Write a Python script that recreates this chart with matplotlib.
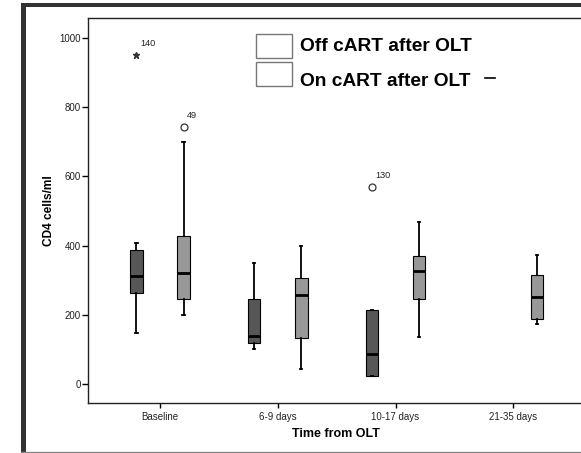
import matplotlib
matplotlib.use("Agg")
import matplotlib.pyplot as plt
from matplotlib.patches import Rectangle
from matplotlib.lines import Line2D

plt.rcParams['font.family'] = ['Liberation Sans', 'DejaVu Sans']

categories = ["Baseline", "6-9 days", "10-17 days", "21-35 days"]
series_names = ["Off cART after OLT", "On cART after OLT"]

# Off cART after OLT (no data for 21-35 days)
off_whislo = [149, 103, 23, None]
off_q1     = [262, 120, 23, None]
off_med    = [312, 138, 88, None]
off_q3     = [386, 245, 213, None]
off_whishi = [408, 351, 213, None]

# On cART after OLT
on_whislo = [199, 44, 136, 175]
on_q1     = [245, 133, 245, 187]
on_med    = [321, 258, 326, 253]
on_q3     = [428, 308, 369, 316]
on_whishi = [698, 400, 468, 372]

# outliers: category index, series (0=off, 1=on), value, case id, marker
out_cat    = [0, 0, 2]
out_series = [0, 1, 0]
out_value  = [951, 743, 569]
out_id     = ["140", "49", "130"]
out_marker = ["*", "o", "o"]

yticks = [0, 200, 400, 600, 800, 1000]

W, H = 581, 453
fig = plt.figure(figsize=(W / 100, H / 100), dpi=100)
fig.patch.set_facecolor("white")

# axes placement (extends slightly past right edge like the reference)
ax_left, ax_right = 87.7, 585.6
ax_top, ax_bot = 18.3, 403.3
ax = fig.add_axes([ax_left / W, 1 - ax_bot / H, (ax_right - ax_left) / W, (ax_bot - ax_top) / H])

colors = ["#575757", "#989898"]
offsets = [-0.2, 0.2]
width = 0.106

series_stats = [
    (off_whislo, off_q1, off_med, off_q3, off_whishi),
    (on_whislo, on_q1, on_med, on_q3, on_whishi),
]

for s, (wl, q1, md, q3, wh) in enumerate(series_stats):
    stats, pos = [], []
    for i in range(len(categories)):
        if md[i] is None:
            continue
        stats.append(dict(whislo=wl[i], q1=q1[i], med=md[i], q3=q3[i], whishi=wh[i], fliers=[]))
        pos.append(i + offsets[s])
    ax.bxp(stats, positions=pos, widths=width, patch_artist=True, showfliers=False,
           capwidths=0.02,
           boxprops=dict(facecolor=colors[s], edgecolor="black", linewidth=0.8),
           medianprops=dict(color="black", linewidth=2.0),
           whiskerprops=dict(color="black", linewidth=1.3),
           capprops=dict(color="black", linewidth=1.3),
           manage_ticks=False)

for c, s, v, lab, m in zip(out_cat, out_series, out_value, out_id, out_marker):
    x = c + offsets[s]
    if m == "*":
        ax.plot([x], [v], marker="*", color="#333333", markersize=4.5, linestyle="none")
    else:
        ax.plot([x], [v], marker="o", markerfacecolor="white", markeredgecolor="#333333",
                markersize=5, markeredgewidth=0.9, linestyle="none")
    ax.annotate(lab, (x, v), xytext=(2.5, 5), textcoords="offset points",
                fontsize=6.6, color="#222222", ha="left", va="bottom")

ax.set_xlim(-0.614, 3.614)
ax.set_ylim(-55, 1056)
ax.set_xticks(range(len(categories)))
ax.set_xticklabels(categories)
ax.set_yticks(yticks)
ax.set_yticklabels([str(t) for t in yticks])
ax.tick_params(axis="x", length=3.6, width=1.0, pad=2.5, labelsize=7, colors="black", labelcolor="#222222")
ax.tick_params(axis="y", length=4.5, width=1.0, pad=0.5, labelsize=7, colors="black", labelcolor="#222222")
for sp in ["left", "bottom", "top"]:
    ax.spines[sp].set_linewidth(1.0)
    ax.spines[sp].set_color("#222222")
ax.spines["right"].set_visible(False)
ax.set_facecolor("white")

fig.text(49 / W, 1 - 211 / H, "CD4 cells/ml", rotation=90, ha="center", va="center",
         fontsize=8.6, fontweight="bold")
fig.text(336 / W, 1 - 434 / H, "Time from OLT", ha="center", va="center",
         fontsize=9, fontweight="bold")

# legend
leg_boxes_y = [34.3, 62.3]
leg_text_base = [50.7, 86.0]
for name, by, tb in zip(series_names, leg_boxes_y, leg_text_base):
    fig.patches.append(Rectangle((255.7 / W, 1 - (by + 24) / H), 36.6 / W, 24 / H,
                                 transform=fig.transFigure, facecolor="white",
                                 edgecolor="#777777", linewidth=1.0))
    fig.text(300 / W, 1 - tb / H, name, ha="left", va="baseline",
             fontsize=13.8, fontweight="bold")
fig.lines.append(Line2D([485 / W, 495 / W], [1 - 77.5 / H, 1 - 77.5 / H],
                        transform=fig.transFigure, color="black", linewidth=1.2))

# outer frame
fig.patches.append(Rectangle((21 / W, 1 - 7.3 / H), 1.0, 4.6 / H, transform=fig.transFigure,
                             facecolor="#333333", edgecolor="none"))
fig.patches.append(Rectangle((21 / W, 1 - 452 / H), 5 / W, 449 / H, transform=fig.transFigure,
                             facecolor="#333333", edgecolor="none"))
fig.lines.append(Line2D([21 / W, 1.0], [1 - 452 / H, 1 - 452 / H], transform=fig.transFigure,
                        color="#888888", linewidth=1.0))

fig.savefig("out.png", dpi=100, facecolor="white")
